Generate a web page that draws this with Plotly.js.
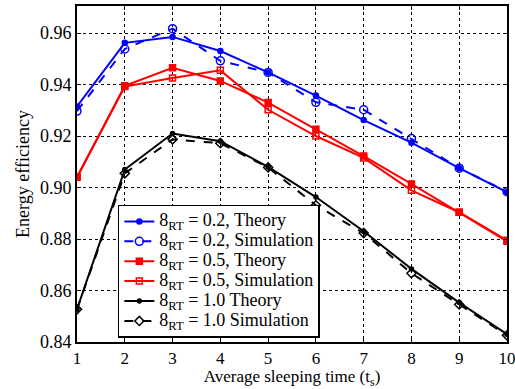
<!DOCTYPE html>
<html><head><meta charset="utf-8">
<script src="https://cdn.plot.ly/plotly-3.0.1.min.js"></script>
<style>body{margin:0;background:#fff}#c{width:515px;height:389px}</style>
</head><body><div id="c"></div>
<script>
const xs = [1,2,3,4,5,6,7,8,9,10];
const blueTheory = [0.9315,0.9562,0.9585,0.9530,0.9447,0.9357,0.9262,0.9174,0.9075,0.8982];
const blueSim    = [0.9297,0.9538,0.9617,0.9492,0.9447,0.9331,0.9302,0.9190,0.9075,0.8984];
const redTheory  = [0.9040,0.9395,0.9465,0.9414,0.9330,0.9226,0.9122,0.9014,0.8904,0.8791];
const redSim     = [0.9040,0.9392,0.9425,0.9455,0.9302,0.9200,0.9115,0.8989,0.8904,0.8795];
const blackTheory= [0.8527,0.9070,0.9210,0.9180,0.9080,0.8963,0.8830,0.8684,0.8553,0.8430];
const blackSim   = [0.8527,0.9055,0.9187,0.9172,0.9078,0.8931,0.8823,0.8667,0.8546,0.8426];
const names = ["8<sub>RT</sub> = 0.2, Theory","8<sub>RT</sub> = 0.2, Simulation","8<sub>RT</sub> = 0.5, Theory","8<sub>RT</sub> = 0.5, Simulation","8<sub>RT</sub> = 1.0 Theory","8<sub>RT</sub> = 1.0 Simulation"];

function big(t){ return '<span style="font-size:18px">'+t+'</span>'; }
function tr(y,name,color,dash,symbol,size){
  return {x:xs,y:y,name:big(name),type:'scatter',mode:'lines+markers',
    line:{color:color,width:2,dash:dash},
    marker:{symbol:symbol,size:size,color:color,line:{color:color,width:1.5}}};
}
const data=[
  tr(blueTheory,names[0],'#0000ff','solid','circle',5),
  tr(blueSim,names[1],'#0000ff','dash','circle-open',8),
  tr(redTheory,names[2],'#ff0000','solid','square',6),
  tr(redSim,names[3],'#ff0000','solid','square-open',6),
  tr(blackTheory,names[4],'#000000','solid','circle',4),
  tr(blackSim,names[5],'#000000','dash','diamond-open',7)
];
const FAM='Liberation Serif';
const font={family:FAM,color:'#000',size:18};
const tfont={family:FAM,color:'#000',size:17};
const layout={
  width:515,height:389,
  margin:{l:77,r:8,t:6,b:47},
  paper_bgcolor:'#fff',plot_bgcolor:'#fff',
  font:font,showlegend:true,
  xaxis:{range:[1,10],tickvals:xs,showline:true,linewidth:2,linecolor:'#000',mirror:'ticks',
    ticks:'inside',ticklen:4,tickcolor:'#000',showgrid:true,gridcolor:'#000',griddash:'dot',gridwidth:1,
    ticklabeloverflow:'allow',
    zeroline:false,title:{text:'Average sleeping time (t<sub>s</sub>)',font:tfont,standoff:1},tickfont:tfont},
  yaxis:{range:[0.84,0.9705],tickvals:[0.84,0.86,0.88,0.90,0.92,0.94,0.96],tickformat:'.2f',
    showline:true,linewidth:2,linecolor:'#000',mirror:'ticks',ticks:'inside',ticklen:4,tickcolor:'#000',
    showgrid:true,gridcolor:'#000',griddash:'dot',gridwidth:1,zeroline:false,
    title:{text:'Energy efficiency',font:font,standoff:6},tickfont:font},
  legend:{x:0.095,y:0.012,xanchor:'left',yanchor:'bottom',bgcolor:'#fff',bordercolor:'#000',borderwidth:1.5,
    font:{family:FAM,size:13,color:'#000'},tracegroupgap:0,itemwidth:30}
};
Plotly.newPlot('c',data,layout,{displayModeBar:false,staticPlot:true});
</script></body></html>
